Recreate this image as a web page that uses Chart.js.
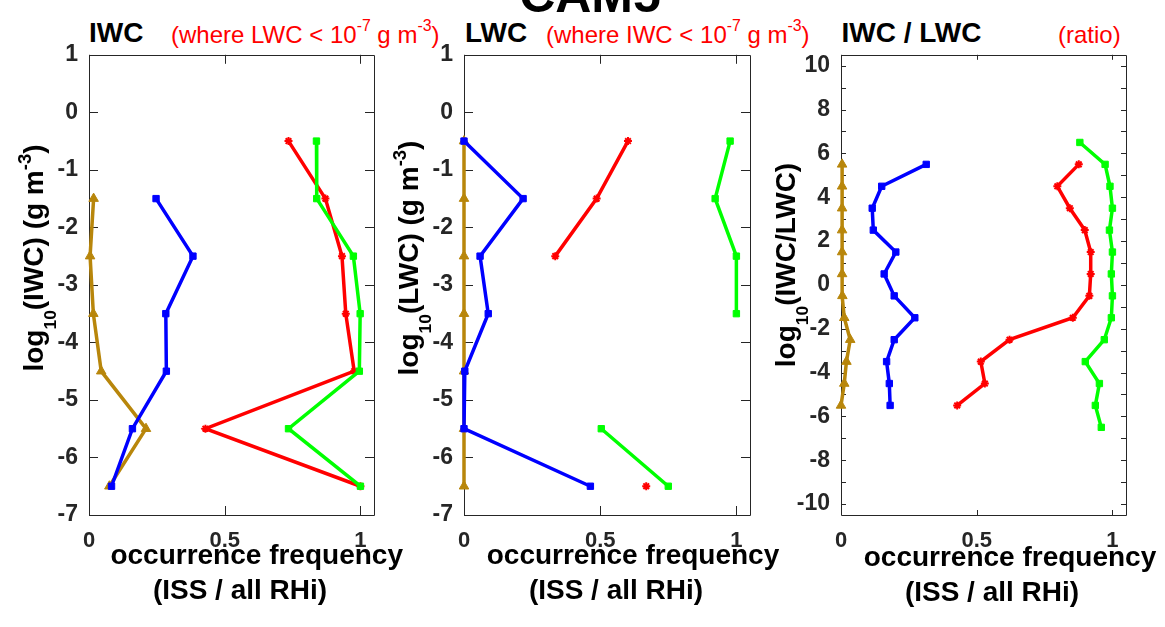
<!DOCTYPE html>
<html>
<head>
<meta charset="utf-8">
<script src="https://cdn.jsdelivr.net/npm/chart.js@4.4.0/dist/chart.umd.min.js"></script>
<style>
  body { margin: 0; width: 1165px; height: 627px; overflow: hidden; background: #fff; position: relative;
         font-family: "Liberation Sans", Arial, sans-serif; }
  .wrap { position: absolute; top: 30px; height: 525px; }
  .t { position: absolute; white-space: nowrap; line-height: 1; }
  .b { font-weight: bold; font-size: 28px; color: #000; }
  .r { font-size: 24px; color: #ff0000; }
  .c { text-align: center; width: 400px; }
  .sup { font-size: 0.66em; position: relative; top: -12px; }
  .sub { font-size: 0.62em; position: relative; top: 12.5px; }
  .yl { width: 400px; height: 28px; text-align: center; transform: rotate(-90deg); }
</style>
</head>
<body>

<div class="t b c" style="left:390px; top:-30px; font-size:50px;">CAM5</div>

<div class="t b" style="left:89px; top:19px;">IWC</div>
<div class="t r" style="left:171px; top:23px;">(where LWC &lt; 10<span class="sup">-7</span> g m<span class="sup">-3</span>)</div>
<div class="t b" style="left:465px; top:19px;">LWC</div>
<div class="t r" style="left:546px; top:23px;">(where IWC &lt; 10<span class="sup">-7</span> g m<span class="sup">-3</span>)</div>
<div class="t b" style="left:841.5px; top:19px;">IWC / LWC</div>
<div class="t r" style="left:1058px; top:23px;">(ratio)</div>

<div class="wrap" style="left:9px; width:385px;"><canvas id="chartIwc"></canvas></div>
<div class="wrap" style="left:384px; width:386px;"><canvas id="chartLwc"></canvas></div>
<div class="wrap" style="left:761px; width:385px;"><canvas id="chartRatio"></canvas></div>

<div class="t b yl" style="left:-165.7px; top:243.5px;">log<span class="sub">10</span>(IWC) (g m<span class="sup">-3</span>)</div>
<div class="t b yl" style="left:209.3px; top:243.5px;">log<span class="sub">10</span>(LWC) (g m<span class="sup">-3</span>)</div>
<div class="t b yl" style="left:586.3px; top:251px;">log<span class="sub">10</span>(IWC/LWC)</div>

<div class="t b c" style="left:56.7px; top:541.3px;">occurrence frequency</div>
<div class="t b c" style="left:40px; top:576.3px;">(ISS / all RHi)</div>
<div class="t b c" style="left:433px; top:541.3px;">occurrence frequency</div>
<div class="t b c" style="left:416px; top:576.3px;">(ISS / all RHi)</div>
<div class="t b c" style="left:810px; top:543.3px;">occurrence frequency</div>
<div class="t b c" style="left:792px; top:578.3px;">(ISS / all RHi)</div>

<script>
// height levels (log10 bins) and tick values
const wcLevels = [-0.5, -1.5, -2.5, -3.5, -4.5, -5.5, -6.5];
const ratioLevels = [6.5, 5.5, 4.5, 3.5, 2.5, 1.5, 0.5, -0.5, -1.5, -2.5, -3.5, -4.5, -5.5, -6.5];
const xTicks = [0, 0.5, 1];
const wcTicks = [1, 0, -1, -2, -3, -4, -5, -6, -7];
const ratioTicks = [10, 9, 8, 7, 6, 5, 4, 3, 2, 1, 0, -1, -2, -3, -4, -5, -6, -7, -8, -9, -10];

// IWC panel (where LWC < 1e-7)
const iwcBlue  = [null, 0.247, 0.383, 0.283, 0.285, 0.160, 0.083];
const iwcGreen = [0.838, 0.839, 0.974, 0.999, 0.996, 0.735, 1.000];
const iwcRed   = [0.735, 0.871, 0.932, 0.946, 0.977, 0.429, 1.000];
const iwcGold  = [null, 0.017, 0.004, 0.016, 0.045, 0.210, 0.075];

// LWC panel (where IWC < 1e-7)
const lwcBlue  = [0.000, 0.217, 0.059, 0.089, 0.003, 0.000, 0.464];
const lwcGreen = [0.977, 0.922, 1.000, 1.000, null, 0.504, 0.750];
const lwcRed   = [0.602, 0.487, 0.335, null, null, null, 0.669];
const lwcGold  = [0, 0, 0, 0, 0, 0, 0];

// IWC / LWC ratio panel
const ratioBlue  = [null, 0.314, 0.150, 0.115, 0.119, 0.202, 0.159, 0.196, 0.272, 0.196, 0.168, 0.178, 0.181, null];
const ratioGreen = [0.880, 0.973, 0.991, 1.000, 0.989, 1.000, 0.996, 1.000, 0.996, 0.970, 0.900, 0.952, 0.937, 0.959];
const ratioRed   = [null, 0.876, 0.797, 0.843, 0.898, 0.920, 0.920, 0.915, 0.854, 0.621, 0.515, 0.530, 0.428, null];
const ratioGold  = [null, 0.004, 0.004, 0.004, 0.004, 0.004, 0.004, 0.005, 0.012, 0.034, 0.020, 0.012, 0.000, null];

const BLUE = "#0000ff";
const GREEN = "#00ff00";
const RED = "#ff0000";
const GOLD = "#b8860b";
const AXIS = "#262626";

function series(values, levels, color, style, radius) {
  return {
    data: levels.map((lv, i) => ({ x: values[i], y: lv })),
    showLine: true,
    borderColor: color,
    backgroundColor: color,
    borderWidth: 3.5,
    pointStyle: style,
    pointRadius: radius,
    pointBorderWidth: style === "star" ? 2 : 1,
    pointBorderColor: color,
    pointBackgroundColor: color,
    clip: false,
  };
}

// box around the plot and inward tick marks on all four sides
const frame = {
  id: "frame",
  beforeDatasetsDraw(chart, args, opts) {
    const { ctx, chartArea: a, scales } = chart;
    const len = opts.len;
    ctx.save();
    ctx.strokeStyle = AXIS;
    ctx.lineWidth = 1;
    ctx.beginPath();
    ctx.rect(Math.round(a.left) + 0.5, Math.round(a.top) + 0.5, Math.round(a.width), Math.round(a.height));
    scales.x.ticks.forEach((t) => {
      const px = Math.round(scales.x.getPixelForValue(t.value)) + 0.5;
      ctx.moveTo(px, a.bottom); ctx.lineTo(px, a.bottom - len);
      ctx.moveTo(px, a.top); ctx.lineTo(px, a.top + len);
    });
    scales.y.ticks.forEach((t) => {
      const py = Math.round(scales.y.getPixelForValue(t.value)) + 0.5;
      ctx.moveTo(a.left, py); ctx.lineTo(a.left + len, py);
      ctx.moveTo(a.right, py); ctx.lineTo(a.right - len, py);
    });
    ctx.stroke();
    ctx.restore();
  },
};

function graphIt(chartId, datasets, yTicks, onlyEven, tickLen) {
  const ctx = document.getElementById(chartId).getContext("2d");
  return new Chart(ctx, {
    type: "scatter",
    data: { datasets: datasets },
    options: {
      responsive: true,
      maintainAspectRatio: false,
      devicePixelRatio: 1,
      animation: false,
      events: [],
      layout: { padding: { top: 20, right: 20, left: 0, bottom: 0 } },
      plugins: { legend: { display: false }, tooltip: { enabled: false }, frame: { len: tickLen } },
      scales: {
        x: {
          type: "linear",
          min: 0,
          max: 1.05,
          afterBuildTicks: (s) => { s.ticks = xTicks.map((v) => ({ value: v })); },
          afterFit: (s) => { s.height = 40; },
          grid: { display: false, drawTicks: false },
          border: { display: false },
          ticks: {
            autoSkip: false,
            maxRotation: 0,
            padding: 13,
            color: AXIS,
            font: { family: "Liberation Sans", size: 22, weight: "bold" },
            callback: (v) => String(v),
          },
        },
        y: {
          type: "linear",
          min: yTicks[yTicks.length - 1] - (onlyEven ? 0.5 : 0),
          max: yTicks[0] + (onlyEven ? 0.5 : 0),
          afterBuildTicks: (s) => { s.ticks = yTicks.map((v) => ({ value: v })); },
          afterFit: (s) => { s.width = 80; },
          grid: { display: false, drawTicks: false },
          border: { display: false },
          ticks: {
            autoSkip: false,
            padding: 11,
            color: AXIS,
            font: { family: "Liberation Sans", size: 23, weight: "bold" },
            callback: (v) => (onlyEven && v % 2 !== 0 ? "" : String(v)),
          },
        },
      },
    },
    plugins: [frame],
  });
}

graphIt("chartIwc", [
  series(iwcBlue, wcLevels, BLUE, "rect", 4.5),
  series(iwcGreen, wcLevels, GREEN, "rect", 4.5),
  series(iwcRed, wcLevels, RED, "star", 4),
  series(iwcGold, wcLevels, GOLD, "triangle", 5.5),
], wcTicks, false, 9);

graphIt("chartLwc", [
  series(lwcBlue, wcLevels, BLUE, "rect", 4.5),
  series(lwcGreen, wcLevels, GREEN, "rect", 4.5),
  series(lwcRed, wcLevels, RED, "star", 4),
  series(lwcGold, wcLevels, GOLD, "triangle", 5.5),
], wcTicks, false, 9);

graphIt("chartRatio", [
  series(ratioBlue, ratioLevels, BLUE, "rect", 4.5),
  series(ratioGreen, ratioLevels, GREEN, "rect", 4.5),
  series(ratioRed, ratioLevels, RED, "star", 4),
  series(ratioGold, ratioLevels, GOLD, "triangle", 5.5),
], ratioTicks, true, 5);
</script>
</body>
</html>
